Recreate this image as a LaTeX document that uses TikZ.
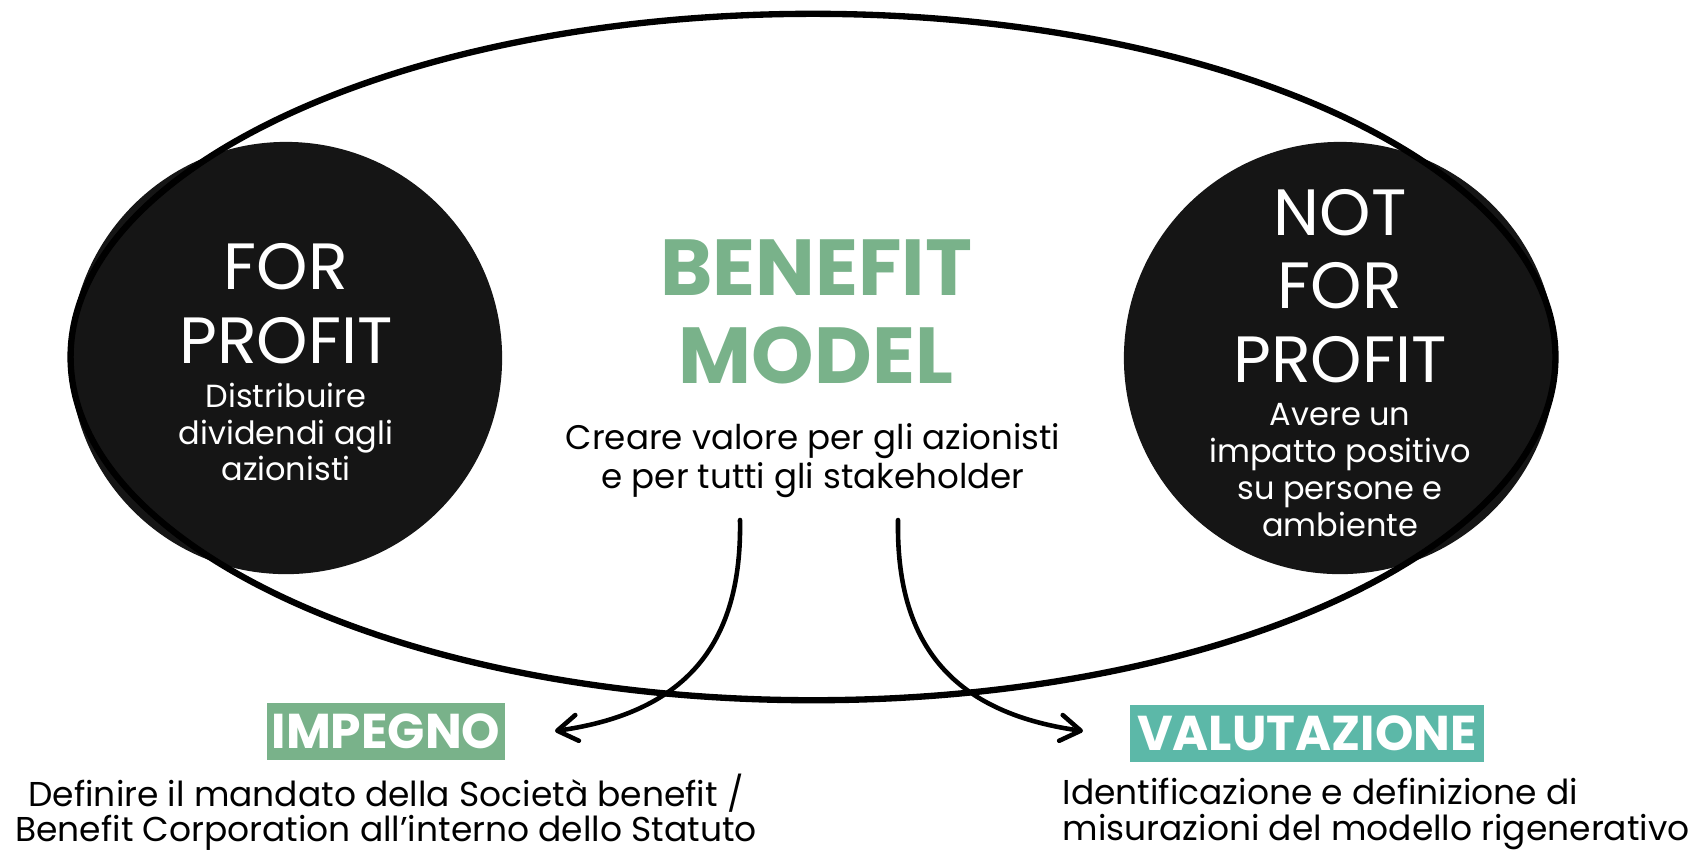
\documentclass[tikz,border=0pt]{standalone}
\usepackage{fontspec}
\setmainfont{Poppins}
\usetikzlibrary{shapes.geometric,arrows.meta,positioning}

\definecolor{benefitgreen}{HTML}{79B28A}
\definecolor{valteal}{HTML}{5CB8A8}
\definecolor{circlefill}{HTML}{151515}

\tikzset{
  bigcircle/.style={circle,fill=circlefill,minimum size=4.32cm,inner sep=0pt},
  bigtext/.style={text=white,align=center,font=\fontsize{18.6}{21}\selectfont},
  smalltext/.style={text=white,align=center,font=\fontsize{9.1}{10.5}\selectfont},
  tagbox/.style={text=white,font=\bfseries\fontsize{13.9}{16}\selectfont,minimum height=0.57cm,inner sep=0pt},
  bodytext/.style={font=\fontsize{9.8}{10}\selectfont,inner sep=0pt},
  splitarrow/.style={line width=1.3pt,line cap=round,-{Straight Barb[length=2mm,width=2.6mm,round]}}
}

\begin{document}
\begin{tikzpicture}[x=0.01cm,y=-0.01cm]
\useasboundingbox (0,0) rectangle (1695,853);
% the two circles and the ellipse
\node[bigcircle] (forcircle) at (286,358) {};
\node[bigcircle] (notcircle) at (1340,358) {};
\node[draw,ellipse,line width=1.8pt,minimum width=14.84cm,minimum height=6.86cm,inner sep=0pt] (model) at (813,357) {};
% circle texts
\node[bigtext] (forprofit) at (286,304) {FOR\\PROFIT};
\node[smalltext] (fordesc) at (286,432) {Distribuire\\dividendi agli\\azionisti};
\node[bigtext] (notprofit) at (1340,286) {NOT\\FOR\\PROFIT};
\node[smalltext] (notdesc) at (1340,470) {Avere un\\impatto positivo\\su persone e\\ambiente};
% centre
\node[text=benefitgreen,align=center,font=\bfseries\fontsize{22.6}{25}\selectfont] (benefit) at (816,312) {BENEFIT\\MODEL};
\node[align=center,font=\fontsize{9.7}{11.1}\selectfont] (creare) at (813,461) {Creare valore per gli azionisti\\e per tutti gli stakeholder};
% tags
\node[tagbox,fill=benefitgreen,minimum width=2.37cm] (impegno) at (386,731) {IMPEGNO};
\node[tagbox,fill=valteal,minimum width=3.53cm] (valutazione) at (1307,733) {VALUTAZIONE};
\node[bodytext,align=center] (impegnodesc) at (386,812) {Definire il mandato della Società benefit /\\Benefit Corporation all’interno dello Statuto};
\node[bodytext,align=left,anchor=west] (valdesc) at (1062,814) {Identificazione e definizione di\\misurazioni del modello rigenerativo};
% arrows
\coordinate (splitleft) at (740,520);
\coordinate (splitright) at (898,520);
\coordinate (impegnotip) at (555,731);
\coordinate (valtip) at (1083,731);
\draw[splitarrow] (splitleft) .. controls (742,640) and (690,712) .. (impegnotip);
\draw[splitarrow] (splitright) .. controls (896,640) and (948,712) .. (valtip);
\end{tikzpicture}
\end{document}
